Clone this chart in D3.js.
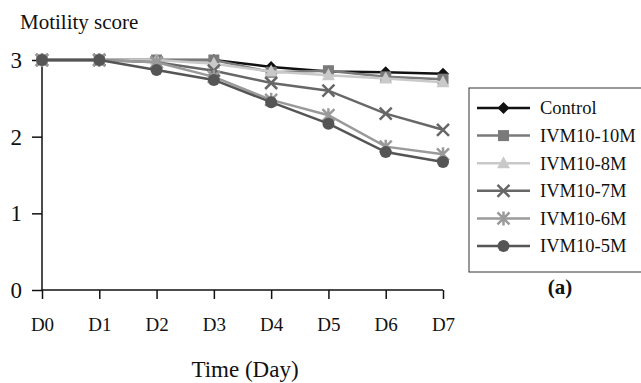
<!DOCTYPE html>
<html>
<head>
    <script src="https://d3js.org/d3.v7.min.js"></script>
    <style>
        body { margin: 0; background: #fff; }
        text { font-family: "Liberation Serif", serif; fill: #111; }
    </style>
</head>
<body>
    <div id="chart"></div>
    <script>
        var days = ["D0", "D1", "D2", "D3", "D4", "D5", "D6", "D7"];
        var yTicks = [0, 1, 2, 3];

        var control = [3, 3, 3, 3, 2.91, 2.85, 2.84, 2.82];
        var ivm10 = [3, 3, 3, 3, 2.84, 2.86, 2.78, 2.75];
        var ivm8 = [3, 3, 3, 2.95, 2.85, 2.8, 2.76, 2.71];
        var ivm7 = [3, 3, 2.97, 2.86, 2.7, 2.6, 2.3, 2.09];
        var ivm6 = [3, 3, 2.97, 2.78, 2.48, 2.28, 1.87, 1.77];
        var ivm5 = [3, 3, 2.87, 2.74, 2.45, 2.17, 1.8, 1.67];

        var seriesNames = ["Control", "IVM10-10M", "IVM10-8M", "IVM10-7M", "IVM10-6M", "IVM10-5M"];
        var seriesValues = [control, ivm10, ivm8, ivm7, ivm6, ivm5];
        var colors = ["#111111", "#7a7a7a", "#c9c9c9", "#676767", "#9a9a9a", "#555555"];
        var markers = ["diamond", "square", "triangle", "x", "star", "circle"];

        var width = 641, height = 383;
        var svg = d3.select("#chart").append("svg")
            .attr("width", width)
            .attr("height", height);

        var x = d3.scalePoint().domain(days).range([42, 443]);
        var y = d3.scaleLinear().domain([0, 3]).range([290, 60]);

        // axes
        var yAxis = svg.append("g")
            .attr("transform", "translate(42,0)")
            .call(d3.axisLeft(y).tickValues(yTicks).tickSize(10).tickPadding(10).tickFormat(d3.format("d")));
        yAxis.selectAll("text").style("font-size", "23px").attr("dy", "0.33em");
        yAxis.selectAll("line, path").attr("stroke", "#111").attr("stroke-width", 1.5);

        var xAxis = svg.append("g")
            .attr("transform", "translate(0,290)")
            .call(d3.axisBottom(x).tickSize(9).tickPadding(28).tickSizeOuter(0));
        xAxis.selectAll("text").style("font-size", "19px").attr("dy", "0.2em");
        xAxis.selectAll("line, path").attr("stroke", "#111").attr("stroke-width", 1.5);
        xAxis.select(".domain").attr("d", "M42,0H443");
        yAxis.select(".domain").attr("d", "M0,60V290");

        svg.append("text")
            .attr("x", 20).attr("y", 29)
            .style("font-size", "21px")
            .text("Motility score");

        svg.append("text")
            .attr("x", 245).attr("y", 377)
            .attr("text-anchor", "middle")
            .style("font-size", "23px")
            .text("Time (Day)");

        function drawMarker(g, type, color) {
            if (type === "diamond") {
                g.append("path").attr("d", "M0,-6L6,0L0,6L-6,0Z").attr("fill", color);
            } else if (type === "square") {
                g.append("rect").attr("x", -5.5).attr("y", -5.5).attr("width", 11).attr("height", 11).attr("fill", color);
            } else if (type === "triangle") {
                g.append("path").attr("d", "M0,-7L6.5,5L-6.5,5Z").attr("fill", color);
            } else if (type === "x") {
                g.append("path").attr("d", "M-6,-6L6,6M-6,6L6,-6").attr("stroke", color).attr("stroke-width", 2.5);
            } else if (type === "star") {
                g.append("path").attr("d", "M-6,-6L6,6M-6,6L6,-6M0,-7V7").attr("stroke", color).attr("stroke-width", 2.5);
            } else {
                g.append("circle").attr("r", 6).attr("fill", color);
            }
        }

        var line = d3.line()
            .x(function(d, i) { return x(days[i]); })
            .y(function(d) { return y(d); });

        seriesValues.forEach(function(vals, s) {
            svg.append("path")
                .datum(vals)
                .attr("d", line)
                .attr("fill", "none")
                .attr("stroke", colors[s])
                .attr("stroke-width", 2.5);
            vals.forEach(function(v, i) {
                var g = svg.append("g").attr("transform", "translate(" + x(days[i]) + "," + y(v) + ")");
                drawMarker(g, markers[s], colors[s]);
            });
        });

        // legend
        var legend = svg.append("g");
        legend.append("rect")
            .attr("x", 469).attr("y", 88)
            .attr("width", 180).attr("height", 184)
            .attr("fill", "#fff")
            .attr("stroke", "#333")
            .attr("stroke-width", 1);
        seriesNames.forEach(function(name, s) {
            var ly = 108 + s * 27.6;
            legend.append("line")
                .attr("x1", 477).attr("x2", 530)
                .attr("y1", ly).attr("y2", ly)
                .attr("stroke", colors[s]).attr("stroke-width", 2.5);
            var g = legend.append("g").attr("transform", "translate(503.5," + ly + ")");
            drawMarker(g, markers[s], colors[s]);
            legend.append("text")
                .attr("x", 540).attr("y", ly)
                .attr("dy", "0.35em")
                .style("font-size", "18.5px")
                .text(name);
        });

        svg.append("text")
            .attr("x", 560).attr("y", 294)
            .attr("text-anchor", "middle")
            .style("font-size", "21px")
            .style("font-weight", "bold")
            .text("(a)");
    </script>
</body>
</html>
